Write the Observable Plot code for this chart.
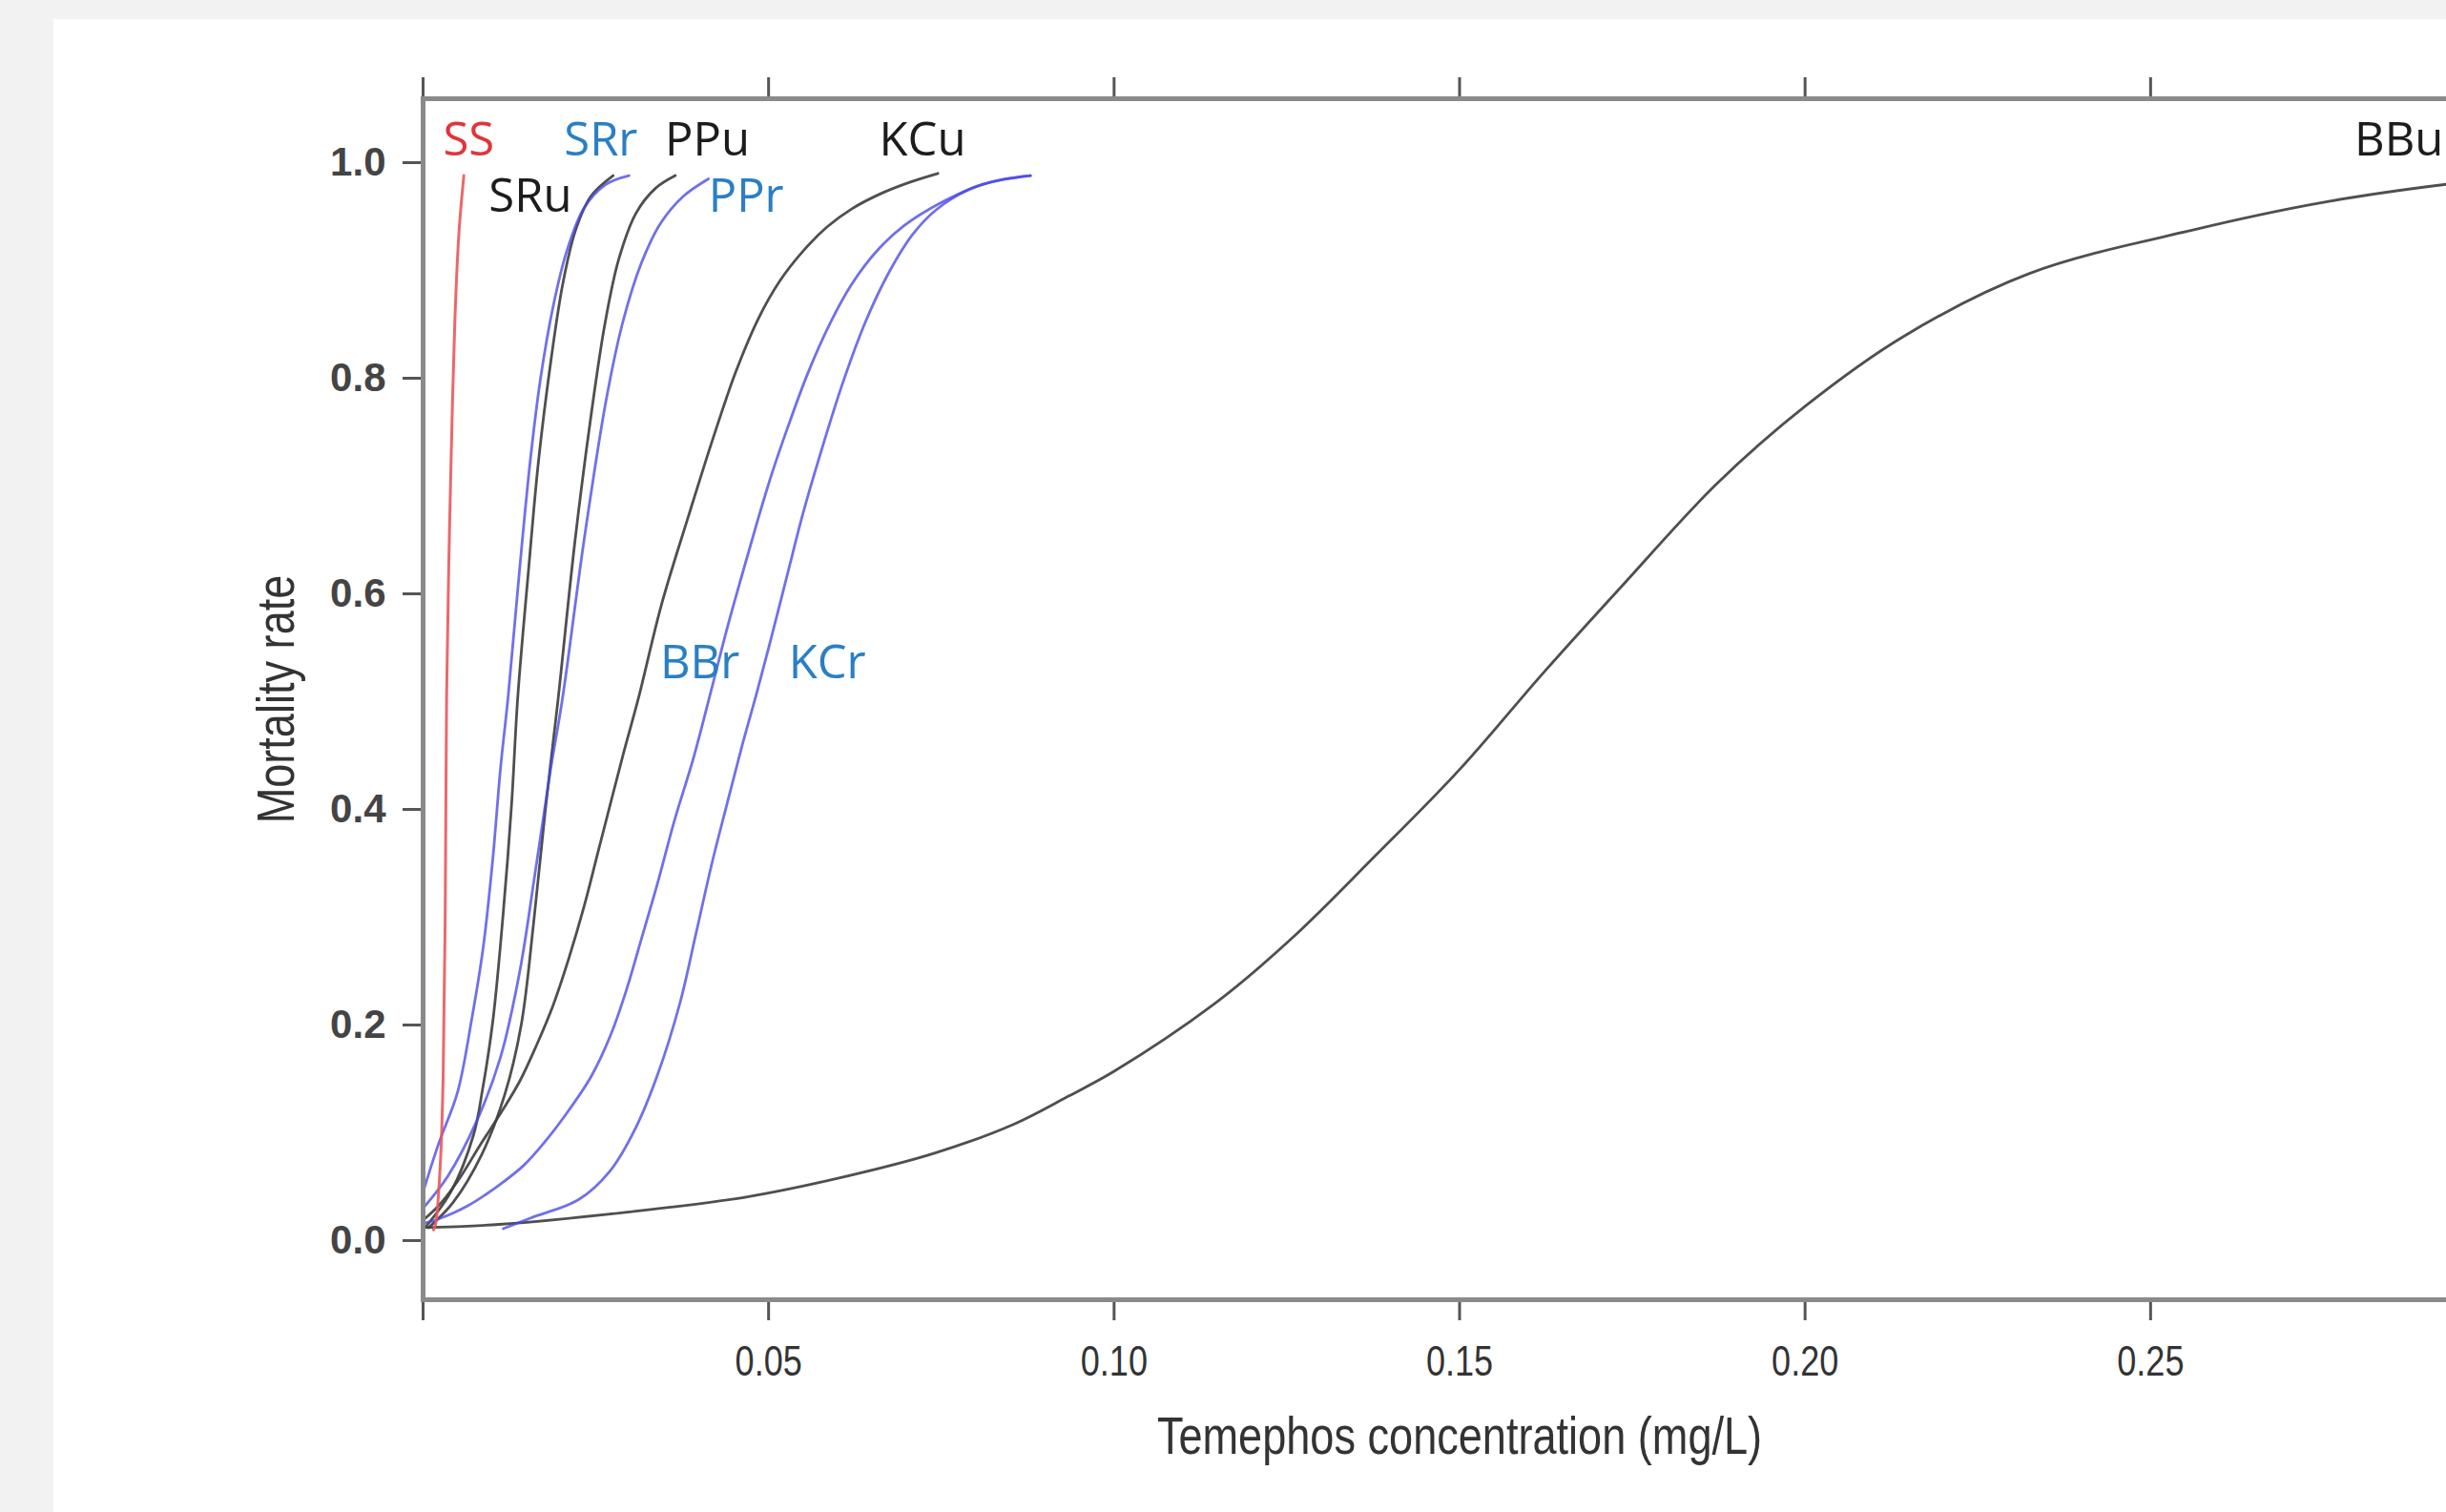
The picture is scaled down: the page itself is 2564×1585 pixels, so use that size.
<!DOCTYPE html>
<html><head><meta charset="utf-8">
<script src="https://cdn.jsdelivr.net/npm/d3@7"></script>
<script src="https://cdn.jsdelivr.net/npm/@observablehq/plot@0.6"></script>
<style>
html,body{margin:0;padding:0;background:#f2f2f2;overflow:hidden;width:2564px;height:1585px;}
#panel{position:absolute;left:56px;top:20px;width:2508px;height:1565px;background:#fff;overflow:hidden;}
#panel svg{max-width:none !important;display:block;}
</style></head><body><div id="panel"></div>
<script>
// ---- axis ticks ----
const xTicks = [0, 0.05, 0.10, 0.15, 0.20, 0.25, 0.30];
const xTickLabels = ["", "0.05", "0.10", "0.15", "0.20", "0.25", ""];
const yTicks = [0, 0.2, 0.4, 0.6, 0.8, 1.0];
const xTitle = "Temephos concentration (mg/L)";
const yTitle = "Mortality rate";

// ---- series: [concentration, mortality] ----
const SS = [[0.0015,0.010],[0.0018,0.015],[0.0025,0.072],[0.0029,0.151],[0.0032,0.304],[0.0034,0.504],[0.0037,0.620],[0.0040,0.710],[0.0046,0.854],[0.0052,0.936],[0.0059,0.988]];
const SRu = [[0.0004,0.013],[0.0040,0.045],[0.0073,0.098],[0.0086,0.140],[0.0101,0.204],[0.0116,0.304],[0.0128,0.404],[0.0137,0.504],[0.0153,0.625],[0.0167,0.723],[0.0186,0.821],[0.0202,0.887],[0.0220,0.936],[0.0243,0.969],[0.0275,0.988]];
const SRr = [[0.0000,0.045],[0.0022,0.089],[0.0050,0.138],[0.0070,0.204],[0.0087,0.272],[0.0101,0.355],[0.0112,0.438],[0.0123,0.504],[0.0140,0.625],[0.0155,0.723],[0.0170,0.800],[0.0188,0.866],[0.0208,0.918],[0.0233,0.958],[0.0265,0.980],[0.0298,0.988]];
const PPu = [[0.0008,0.012],[0.0043,0.035],[0.0085,0.080],[0.0118,0.135],[0.0142,0.200],[0.0160,0.295],[0.0177,0.400],[0.0195,0.500],[0.0220,0.650],[0.0243,0.765],[0.0263,0.850],[0.0283,0.910],[0.0308,0.953],[0.0336,0.976],[0.0365,0.988]];
const PPr = [[0.0000,0.030],[0.0036,0.060],[0.0077,0.110],[0.0112,0.170],[0.0140,0.250],[0.0163,0.345],[0.0184,0.435],[0.0202,0.504],[0.0233,0.650],[0.0265,0.780],[0.0289,0.852],[0.0316,0.907],[0.0344,0.944],[0.0377,0.969],[0.0413,0.985]];
const KCu = [[0.0000,0.019],[0.0022,0.032],[0.0050,0.055],[0.0082,0.088],[0.0115,0.121],[0.0140,0.148],[0.0164,0.181],[0.0188,0.218],[0.0211,0.262],[0.0233,0.310],[0.0253,0.360],[0.0271,0.405],[0.0290,0.452],[0.0312,0.504],[0.0345,0.590],[0.0385,0.674],[0.0420,0.745],[0.0452,0.805],[0.0485,0.855],[0.0516,0.890],[0.0550,0.918],[0.0584,0.940],[0.0620,0.957],[0.0665,0.972],[0.0705,0.982],[0.0745,0.990]];
const BBr = [[0.0000,0.016],[0.0018,0.019],[0.0064,0.032],[0.0109,0.051],[0.0146,0.070],[0.0178,0.093],[0.0211,0.121],[0.0243,0.152],[0.0271,0.190],[0.0294,0.232],[0.0316,0.280],[0.0340,0.333],[0.0363,0.388],[0.0391,0.447],[0.0416,0.508],[0.0440,0.568],[0.0464,0.623],[0.0485,0.670],[0.0505,0.712],[0.0528,0.755],[0.0557,0.805],[0.0589,0.851],[0.0620,0.887],[0.0658,0.919],[0.0695,0.941],[0.0750,0.963],[0.0810,0.980],[0.0879,0.988]];
const KCr = [[0.0116,0.011],[0.0156,0.021],[0.0225,0.038],[0.0271,0.065],[0.0308,0.105],[0.0340,0.155],[0.0372,0.221],[0.0395,0.285],[0.0418,0.350],[0.0441,0.408],[0.0462,0.460],[0.0482,0.506],[0.0505,0.562],[0.0528,0.620],[0.0550,0.675],[0.0575,0.730],[0.0607,0.795],[0.0640,0.852],[0.0674,0.898],[0.0708,0.933],[0.0742,0.956],[0.0790,0.975],[0.0835,0.984],[0.0879,0.988]];
const BBu = [[0.0000,0.012],[0.0110,0.015],[0.0290,0.026],[0.0464,0.040],[0.0602,0.058],[0.0740,0.081],[0.0855,0.108],[0.0934,0.134],[0.1000,0.157],[0.1150,0.222],[0.1260,0.282],[0.1375,0.355],[0.1500,0.437],[0.1623,0.528],[0.1736,0.608],[0.1872,0.702],[0.2000,0.774],[0.2143,0.839],[0.2324,0.897],[0.2564,0.938],[0.2748,0.963],[0.2929,0.980],[0.2995,0.984]];

const seriesNames = ["BBu","SRu","PPu","KCu","SRr","PPr","BBr","KCr","SS"];
const seriesData  = {SS, SRu, SRr, PPu, PPr, KCu, BBr, KCr, BBu};
const seriesGroup = {SS:"red", SRu:"black", PPu:"black", KCu:"black", BBu:"black", SRr:"blue", PPr:"blue", BBr:"blue", KCr:"blue"};

// ---- curve labels (anchor in data units: left edge, baseline) ----
const labelNames = ["SS","SRr","PPu","KCu","BBu","SRu","PPr","BBr","KCr"];
const labelX = [0.0029,0.0204,0.0350,0.0660,0.2795,0.0095,0.0413,0.0343,0.0529];
const labelY = [1.007,1.007,1.007,1.007,1.007,0.954,0.954,0.522,0.522];

// ---- styles ----
const lineColor = {red:"#e8585c", black:"#404040", blue:"#4848e4"};
const lineWidth = {red:3, black:2.8, blue:2.8};
const lineOpacity = {red:0.9, black:0.92, blue:0.78};
const textColor = {red:"#e0353b", black:"#1c1c1c", blue:"#2a7fc4"};

const labels = labelNames.map((n, i) => ({name: n, x: labelX[i], y: labelY[i], group: seriesGroup[n]}));

const lineMarks = seriesNames.map(name => {
  const g = seriesGroup[name];
  return Plot.line(seriesData[name], {
    x: d => d[0], y: d => d[1],
    stroke: lineColor[g], strokeWidth: lineWidth[g], strokeOpacity: lineOpacity[g],
    curve: "catmull-rom"
  });
});

const labelMarks = ["red","black","blue"].map(g => Plot.text(labels.filter(d => d.group === g), {
  x: "x", y: "y", text: "name", fill: textColor[g],
  textAnchor: "start", lineAnchor: "bottom",
  fontSize: 49, fontFamily: "Open Sans"
}));

const chart = Plot.plot({
  width: 2580, height: 1565,
  marginLeft: 387, marginTop: 83, marginBottom: 223, marginRight: 20,
  style: {background: "#fff", fontFamily: "Liberation Sans, Arial, sans-serif", overflow: "visible"},
  x: {domain: [0, 0.3]},
  y: {domain: [-0.0549, 1.0593]},
  marks: [
    Plot.axisX({anchor: "bottom", ticks: xTicks, tickSize: 22, tickPadding: 26,
      tickFormat: d => xTickLabels[xTicks.indexOf(d)] ?? "", label: null,
      fontSize: 44, fill: "#333", stroke: "#555", strokeWidth: 3}),
    Plot.axisX({anchor: "top", ticks: xTicks, tickSize: 23, tickFormat: () => "", label: null,
      stroke: "#555", strokeWidth: 3}),
    Plot.axisY({anchor: "left", ticks: yTicks, tickSize: 21, tickPadding: 18,
      tickFormat: d3.format(".1f"), label: null,
      fontSize: 42, fontWeight: "bold", fill: "#444", stroke: "#555", strokeWidth: 3}),
    Plot.text([xTitle], {frameAnchor: "bottom", dy: 161, lineAnchor: "bottom", textAnchor: "middle",
      fontSize: 55, fill: "#333"}),
    Plot.text([yTitle], {frameAnchor: "left", dx: -175, rotate: -90, lineAnchor: "top", textAnchor: "middle",
      fontSize: 55, fill: "#333"}),
    ...lineMarks,
    ...labelMarks,
    Plot.frame({stroke: "#8a8a8a", strokeWidth: 5})
  ]
});

document.getElementById("panel").appendChild(chart);

// condense the Arial-like texts (original uses a narrow face)
function condense(nodes, k) {
  nodes.forEach(t => {
    const L = t.getComputedTextLength();
    if (L > 0) {
      t.setAttribute("textLength", (L * k).toFixed(1));
      t.setAttribute("lengthAdjust", "spacingAndGlyphs");
    }
  });
}
condense(chart.querySelectorAll('g[aria-label="x-axis tick label"] text'), 0.82);
condense(Array.from(chart.querySelectorAll("text")).filter(t => t.textContent === xTitle || t.textContent === yTitle), 0.82);
</script>
</body></html>
